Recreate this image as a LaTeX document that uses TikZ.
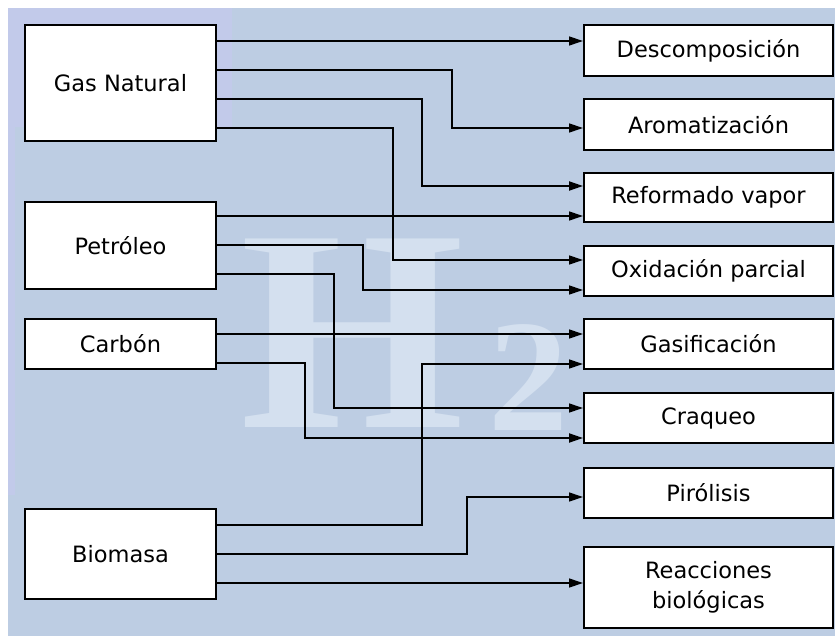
\documentclass[tikz,border=0pt]{standalone}
\usepackage{fontspec}
\setmainfont{DejaVu Sans}
\newfontfamily\wmfont{Liberation Serif}
\usetikzlibrary{arrows.meta}
\definecolor{bgblue}{RGB}{189,205,227}
\definecolor{bglav}{RGB}{194,202,234}
\definecolor{wm}{RGB}{212,224,239}
\tikzset{
  srcbox/.style={draw=black, line width=2pt, fill=white, minimum width=191pt, inner sep=0pt, align=center, font=\fontsize{22.5}{30}\selectfont},
  dstbox/.style={draw=black, line width=2pt, fill=white, minimum width=249pt, inner sep=0pt, align=center, font=\fontsize{22.5}{30}\selectfont},
  conn/.style={draw=black, line width=1.3pt, -{Triangle[length=14pt,width=9pt]}},
  connthick/.style={conn, line width=2pt},
}
\begin{document}
\begin{tikzpicture}[x=1pt,y=-1pt]
\useasboundingbox (0,0) rectangle (835,636);
\fill[white] (0,0) rectangle (835,636);
\fill[bgblue] (8,8) rectangle (835,636);
\fill[bglav] (8,8) rectangle (232,127);
\fill[bglav] (8,127) rectangle (15,495);
% watermark H2
\node[text=wm, inner sep=0pt, anchor=base, font=\wmfont\bfseries\fontsize{288}{290}\selectfont] (wmH) at (353,427) {H};
\node[text=wm, inner sep=0pt, anchor=base, font=\wmfont\bfseries\fontsize{160}{165}\selectfont] (wm2) at (528,430) {2};
% source boxes
\node[srcbox, minimum height=116pt] (gas) at (120.5,83) {Gas Natural};
\node[srcbox, minimum height=87pt] (pet) at (120.5,245.5) {Petróleo};
\node[srcbox, minimum height=50pt] (carb) at (120.5,344) {Carbón};
\node[srcbox, minimum height=90pt] (bio) at (120.5,554) {Biomasa};
% target boxes
\node[dstbox, minimum height=51pt] (desc) at (708.5,50.5) {Descomposición};
\node[dstbox, minimum height=51pt] (arom) at (708.5,124.5) {Aromatización};
\node[dstbox, minimum height=49pt] (ref) at (708.5,197.5) {Reformado vapor};
\node[dstbox, minimum height=50pt] (oxi) at (708.5,271) {Oxidación parcial};
\node[dstbox, minimum height=50pt] (gasif) at (708.5,344) {Gasificación};
\node[dstbox, minimum height=50pt] (craq) at (708.5,418) {Craqueo};
\node[dstbox, minimum height=50pt] (piro) at (708.5,493) {Pirólisis};
\node[dstbox, minimum height=81pt] (reac) at (708.5,587.5) {Reacciones\\biológicas};
% connectors
\draw[conn] (gas.east|-0,41) -- (desc.west|-0,41);
\draw[conn] (gas.east|-0,70) -| (452,128) -- (arom.west|-0,128);
\draw[connthick] (gas.east|-0,99) -| (422,186) -- (ref.west|-0,186);
\draw[conn] (gas.east|-0,128) -| (393,260) -- (oxi.west|-0,260);
\draw[conn] (pet.east|-0,216) -- (ref.west|-0,216);
\draw[conn] (pet.east|-0,245) -| (363,290) -- (oxi.west|-0,290);
\draw[conn] (pet.east|-0,274) -| (334,408) -- (craq.west|-0,408);
\draw[conn] (carb.east|-0,334) -- (gasif.west|-0,334);
\draw[connthick] (carb.east|-0,363) -| (305,438) -- (craq.west|-0,438);
\draw[conn] (bio.east|-0,525) -| (422,364) -- (gasif.west|-0,364);
\draw[conn] (bio.east|-0,554) -| (467,497) -- (piro.west|-0,497);
\draw[conn] (bio.east|-0,583) -- (reac.west|-0,583);
\end{tikzpicture}
\end{document}
